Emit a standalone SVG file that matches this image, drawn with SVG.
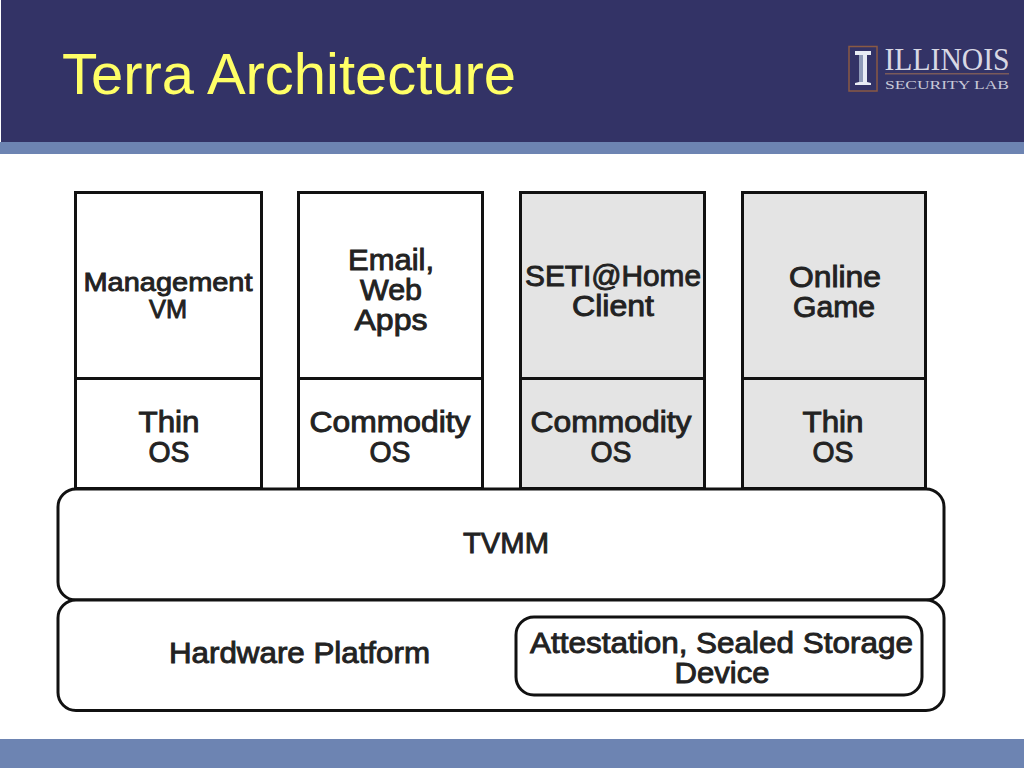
<svg xmlns="http://www.w3.org/2000/svg" width="1024" height="768" viewBox="0 0 1024 768">
<style>
.b{stroke:#111;stroke-width:3;fill:#fff}
.g{fill:#e4e4e4}
.l{stroke:#111;stroke-width:3;fill:none}
text{font-family:"Liberation Sans",Arial,sans-serif;font-size:29px;fill:#222;text-anchor:middle;stroke:#222;stroke-width:.9}
</style>
<rect width="1024" height="768" fill="#fff"/>
<g id="header">
<rect width="1024" height="142" fill="#333366"/>
<rect x="0" y="0" width="1" height="142" fill="#fff"/>
<rect y="142" width="1024" height="12" fill="#6d84b2"/>
<rect y="739" width="1024" height="29" fill="#6d84b2"/>
<text x="289" y="94" textLength="454" lengthAdjust="spacingAndGlyphs" style="font-size:58px;fill:#ffff66;stroke:none">Terra Architecture</text>
</g>
<g id="logo">
<rect x="849" y="46.500" width="28" height="44.500" fill="none" stroke="#8a5a44" stroke-width="1.500"/>
<path d="M855 51H871V55H867V82L871 83V85H855V83L859 82V55H855Z" fill="#e8ecf4"/>
<path d="M859 55H863V82H859Z" fill="#8f9bb8"/>
<text x="947" y="70" style="font-family:'Liberation Serif',serif;font-size:31px;fill:#d8d8e4;stroke:none" textLength="125" lengthAdjust="spacingAndGlyphs">ILLINOIS</text>
<rect x="885" y="73" width="124" height="1.500" fill="#7a5a5a"/>
<text x="947" y="89" style="font-family:'Liberation Serif',serif;font-size:12px;fill:#c8c8d8;stroke:none" textLength="124" lengthAdjust="spacingAndGlyphs">SECURITY  LAB</text>
</g>
<g id="vm1">
<rect class="b" x="75.500" y="192.500" width="186" height="296"/>
<path class="l" d="M75.500 378.500H261.500"/>
<text x="168" y="291" textLength="169" lengthAdjust="spacingAndGlyphs" style="font-size:26px">Management</text><text x="168" y="318" textLength="38" lengthAdjust="spacingAndGlyphs" style="font-size:26px">VM</text>
<text x="169" y="431.500" textLength="61" lengthAdjust="spacingAndGlyphs">Thin</text><text x="169" y="461.500" textLength="41" lengthAdjust="spacingAndGlyphs">OS</text>
</g>
<g id="vm2">
<rect class="b" x="298.500" y="192.500" width="184" height="296"/>
<path class="l" d="M298.500 378.500H482.500"/>
<text x="391" y="270" textLength="86" lengthAdjust="spacingAndGlyphs">Email,</text><text x="391" y="300" textLength="62" lengthAdjust="spacingAndGlyphs">Web</text><text x="391" y="330" textLength="73" lengthAdjust="spacingAndGlyphs">Apps</text>
<text x="390" y="431.500" textLength="161" lengthAdjust="spacingAndGlyphs">Commodity</text><text x="390" y="461.500" textLength="41" lengthAdjust="spacingAndGlyphs">OS</text>
</g>
<g id="vm3">
<rect class="b g" x="520.500" y="192.500" width="184" height="296"/>
<path class="l" d="M520.500 378.500H704.500"/>
<text x="613" y="285.500" textLength="176" lengthAdjust="spacingAndGlyphs">SETI@Home</text><text x="613" y="315.500" textLength="82" lengthAdjust="spacingAndGlyphs">Client</text>
<text x="611" y="431.500" textLength="161" lengthAdjust="spacingAndGlyphs">Commodity</text><text x="611" y="461.500" textLength="41" lengthAdjust="spacingAndGlyphs">OS</text>
</g>
<g id="vm4">
<rect class="b g" x="742.500" y="192.500" width="183" height="296"/>
<path class="l" d="M742.500 378.500H925.500"/>
<text x="835" y="287" textLength="92" lengthAdjust="spacingAndGlyphs">Online</text><text x="834" y="317" textLength="82" lengthAdjust="spacingAndGlyphs">Game</text>
<text x="833" y="431.500" textLength="61" lengthAdjust="spacingAndGlyphs">Thin</text><text x="833" y="461.500" textLength="41" lengthAdjust="spacingAndGlyphs">OS</text>
</g>
<g id="tvmm">
<rect class="b" x="58" y="489" width="886" height="111" rx="18"/>
<text x="506" y="553" textLength="86" lengthAdjust="spacingAndGlyphs">TVMM</text>
</g>
<g id="hardware">
<rect class="b" x="58" y="600" width="886" height="110.500" rx="18"/>
<text x="299.500" y="663" textLength="261" lengthAdjust="spacingAndGlyphs">Hardware Platform</text>
</g>
<g id="attestation">
<rect class="b" x="516" y="617" width="406" height="78" rx="18"/>
<text x="721.500" y="652.500" textLength="383" lengthAdjust="spacingAndGlyphs">Attestation, Sealed Storage</text>
<text x="722" y="682.500" textLength="95" lengthAdjust="spacingAndGlyphs">Device</text>
</g>
<g id="connectors"/>
</svg>
